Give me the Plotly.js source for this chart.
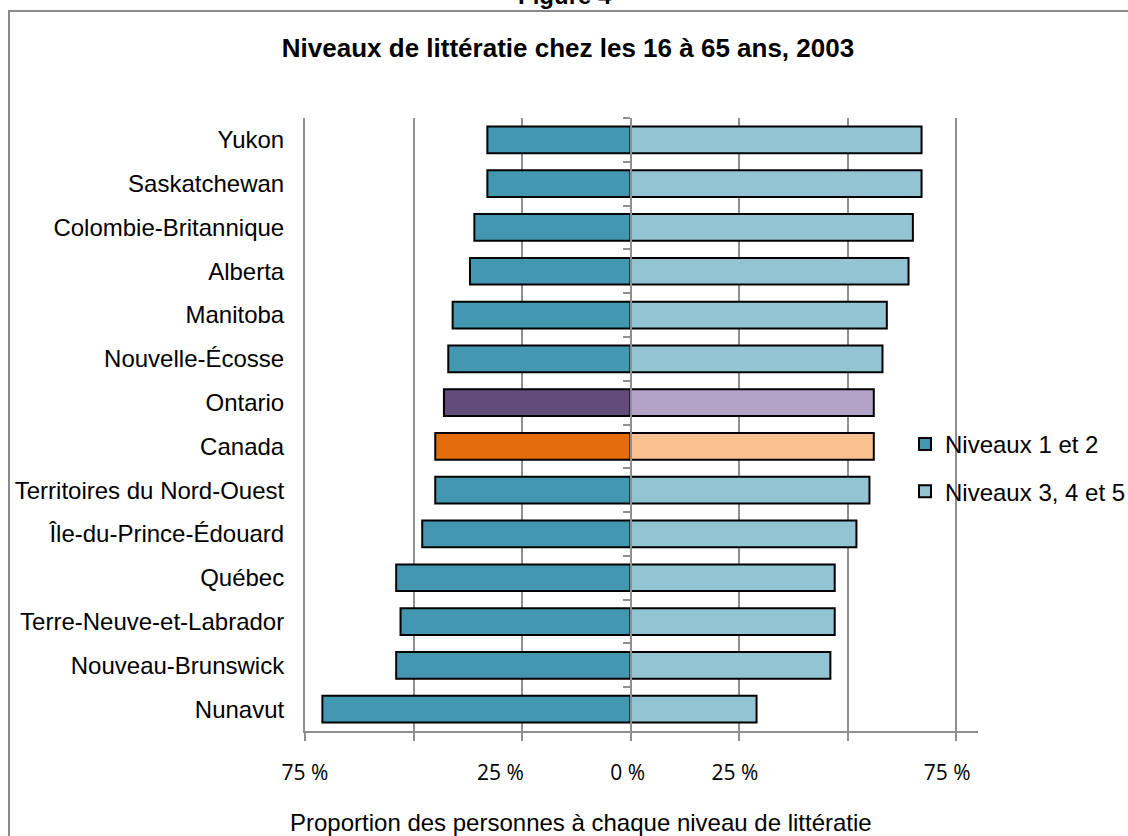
<!DOCTYPE html>
<html>
<head>
<meta charset="utf-8">
<script src="https://cdn.plot.ly/plotly-3.0.1.min.js"></script>
<style>html,body{margin:0;padding:0;background:#fff;}#chart{width:1128px;height:836px;}</style>
</head>
<body>
<div id="chart"></div>
<script>
// ---- Data ----
const categories = [
  "Yukon", "Saskatchewan", "Colombie-Britannique", "Alberta", "Manitoba",
  "Nouvelle-Écosse", "Ontario", "Canada", "Territoires du Nord-Ouest",
  "Île-du-Prince-Édouard", "Québec", "Terre-Neuve-et-Labrador",
  "Nouveau-Brunswick", "Nunavut"
];
// Percent at levels 1 and 2 (drawn to the left)
const levels12 = [33, 33, 36, 37, 41, 42, 43, 45, 45, 48, 54, 53, 54, 71];
// Percent at levels 3, 4 and 5 (drawn to the right)
const levels345 = [67, 67, 65, 64, 59, 58, 56, 56, 55, 52, 47, 47, 46, 29];

const seriesNames = ["Niveaux 1 et 2", "Niveaux 3, 4 et 5"];

const gridTickVals = [-75, -50, -25, 0, 25, 50, 75];
// Excel showed only every other label, with slightly offset positions
const labelTickVals = [-75.0, -30.0, -0.7, 24.0, 72.9];
const labelTickText = ["75 %", "25 %", "0 %", "25 %", "75 %"];

const titleText = "Niveaux de littératie chez les 16 à 65 ans, 2003";
const figureText = "Figure 4";
const xTitleText = "Proportion des personnes à chaque niveau de littératie";

// ---- Styles ----
const darkTeal = "#4397B0", lightTeal = "#93C4D4";
const highlightDark = { "Ontario": "#614C7C", "Canada": "#E46C0A" };
const highlightLight = { "Ontario": "#B3A2C7", "Canada": "#FAC090" };
const leftColors = categories.map(c => highlightDark[c] || darkTeal);
const rightColors = categories.map(c => highlightLight[c] || lightTeal);
const gridColor = "#8f8f8f";
const font = "Liberation Sans, Arial, sans-serif";
const xRange = [-75, 80];
const yRange = [categories.length - 0.5, -0.5];

const W = 1128, H = 836;
const mL = 305, mR = 150, mT = 118, mB = 105;
const plotW = W - mL - mR, plotH = H - mT - mB;
const px2paperX = p => (p - mL) / plotW;
const px2paperY = p => (H - mB - p) / plotH;

const traces = [
  {
    type: "bar", orientation: "h", name: seriesNames[0],
    y: categories, x: levels12.map(v => -v),
    marker: { color: leftColors, line: { color: "#000", width: 2 } },
    xaxis: "x", yaxis: "y", legendgroup: "a",
    hoverinfo: "y+name"
  },
  {
    type: "bar", orientation: "h", name: seriesNames[1],
    y: categories, x: levels345,
    marker: { color: rightColors, line: { color: "#000", width: 2 } },
    xaxis: "x2", yaxis: "y2", legendgroup: "b",
    hoverinfo: "x+y+name"
  }
];

const layout = {
  width: W, height: H,
  margin: { l: mL, r: mR, t: mT, b: mB, autoexpand: false },
  paper_bgcolor: "#ffffff", plot_bgcolor: "#ffffff",
  font: { family: font, color: "#000" },
  barmode: "overlay", bargap: 0.39,
  showlegend: true,
  legend: {
    x: px2paperX(905), xanchor: "left", y: px2paperY(422), yanchor: "top",
    font: { family: font, size: 24, color: "#000" },
    bgcolor: "rgba(0,0,0,0)", tracegroupgap: 13, traceorder: "grouped"
  },
  title: {
    text: "<b>" + titleText + "</b>",
    font: { family: font, size: 26, color: "#000" },
    xref: "container", x: 568 / W, xanchor: "center",
    yref: "container", y: 1 - 48 / H, yanchor: "middle"
  },
  xaxis: {
    range: xRange, tickvals: gridTickVals, showticklabels: false,
    showgrid: true, gridcolor: gridColor, gridwidth: 2,
    zeroline: false, showline: true, linecolor: gridColor, linewidth: 2,
    ticks: "outside", ticklen: 8, tickwidth: 2, tickcolor: gridColor,
    fixedrange: true
  },
  xaxis2: {
    overlaying: "x", anchor: "y", side: "bottom",
    range: xRange, tickvals: labelTickVals, ticktext: labelTickText,
    showgrid: false, zeroline: false, showline: false, ticks: "",
    ticklabelstandoff: 27,
    tickfont: { family: "Open Sans, sans-serif", size: 21, color: "#000" },
    fixedrange: true
  },
  yaxis: {
    type: "category", categoryorder: "array", categoryarray: categories,
    range: yRange, showgrid: false, zeroline: false,
    showline: true, linecolor: gridColor, linewidth: 2,
    ticks: "", ticklabelstandoff: 14,
    tickfont: { family: font, size: 24, color: "#000" },
    automargin: false, fixedrange: true
  },
  yaxis2: {
    type: "category", categoryorder: "array", categoryarray: categories,
    overlaying: "y", anchor: "free", position: (0 - xRange[0]) / (xRange[1] - xRange[0]), side: "left",
    range: yRange, showgrid: false, zeroline: false,
    showline: true, linecolor: gridColor, linewidth: 2,
    ticks: "outside", tickson: "boundaries", ticklen: 7, tickwidth: 2, tickcolor: gridColor,
    showticklabels: false, fixedrange: true
  },
  annotations: [
    {
      text: "<b>" + figureText + "</b>", xref: "paper", yref: "paper",
      x: px2paperX(565), y: px2paperY(-5), xanchor: "center", yanchor: "middle",
      showarrow: false, font: { family: font, size: 24, color: "#000" }
    },
    {
      text: xTitleText, xref: "paper", yref: "paper",
      x: px2paperX(581), y: px2paperY(822), xanchor: "center", yanchor: "middle",
      showarrow: false, font: { family: font, size: 24, color: "#000" }
    }
  ],
  shapes: [
    {
      type: "rect", xref: "paper", yref: "paper", layer: "below",
      x0: px2paperX(9), x1: px2paperX(1140),
      y0: px2paperY(850), y1: px2paperY(11),
      line: { color: "#8a8a8a", width: 2 }, fillcolor: "rgba(0,0,0,0)"
    }
  ]
};

Plotly.newPlot("chart", traces, layout, { displayModeBar: false, staticPlot: true });
</script>
</body>
</html>
